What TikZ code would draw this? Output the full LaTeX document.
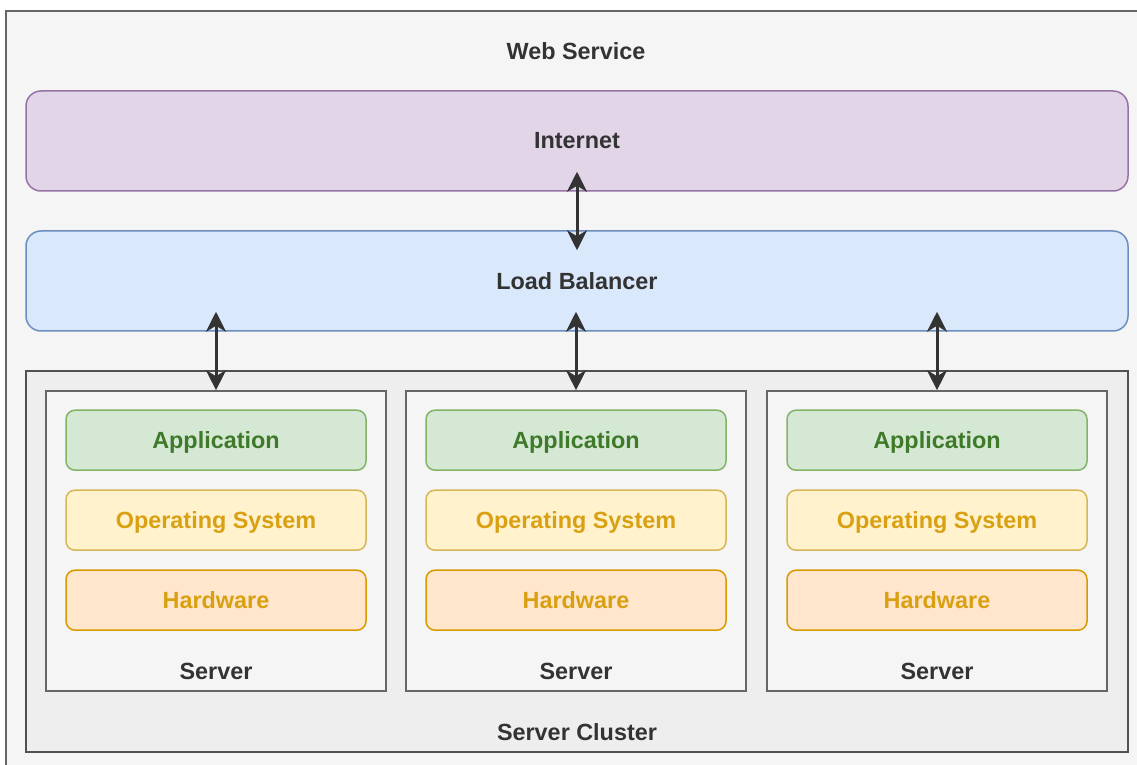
\documentclass[tikz,border=0pt]{standalone}
\usepackage{fontspec}
\setmainfont{Liberation Sans}
\usepackage{tikz}
\usetikzlibrary{calc,positioning,arrows.meta}
\definecolor{webfill}{HTML}{F5F5F5}
\definecolor{webline}{HTML}{666666}
\definecolor{txtgray}{HTML}{333333}
\definecolor{inetfill}{HTML}{E1D5E7}
\definecolor{inetline}{HTML}{9673A6}
\definecolor{lbfill}{HTML}{DAE8FC}
\definecolor{lbline}{HTML}{6C8EBF}
\definecolor{clfill}{HTML}{EEEEEE}
\definecolor{clline}{HTML}{505055}
\definecolor{appfill}{HTML}{D5E8D4}
\definecolor{appline}{HTML}{82B366}
\definecolor{apptxt}{HTML}{3E7A2A}
\definecolor{osfill}{HTML}{FFF2CC}
\definecolor{osline}{HTML}{D6B656}
\definecolor{hwfill}{HTML}{FFE6CC}
\definecolor{hwline}{HTML}{D79B00}
\definecolor{layertxt}{HTML}{D9A012}
\tikzset{
x=0.5pt, y=-0.5pt, % one unit is one pixel of the reference
every node/.style={font=\fontsize{11.7}{14}\bfseries\selectfont, text=txtgray},
band/.style={draw, rounded corners=7.5pt, line width=0.75pt,
    minimum width=551pt, minimum height=50pt},
serverbox/.style={draw=webline, fill=webfill, line width=0.8pt,
    minimum width=170pt, minimum height=150pt},
layer/.style={draw, rounded corners=4.5pt, line width=0.75pt,
    minimum width=150pt, minimum height=30pt, text depth=0pt},
app/.style={layer, fill=appfill, draw=appline, text=apptxt},
os/.style={layer, fill=osfill, draw=osline, text=layertxt},
hw/.style={layer, fill=hwfill, draw=hwline, text=layertxt},
link/.style={{Stealth[length=10pt,width=10pt,inset=3pt]}-{Stealth[length=10pt,width=10pt,inset=3pt]},
    line width=1.5pt, draw=txtgray},
}

\begin{document}
\begin{tikzpicture}[on grid]
    \useasboundingbox (0,0) rectangle (1137,765);
    \clip (0,0) rectangle (1137,765);
    \fill[white] (0,0) rectangle (1137,765);
    % outer container, cut off by the page
    \draw[draw=webline, fill=webfill, line width=1pt] (6,11) rectangle (1160,790);
    \node (title) at (576,51) {Web Service};
    \node[band, fill=inetfill, draw=inetline] (inet) at (577,141) {Internet};
    \node[band, fill=lbfill, draw=lbline] (lb) at (577,281) {Load Balancer};
    \node[draw=clline, fill=clfill, line width=1pt, minimum width=551pt,
        minimum height=190.5pt] (cluster) at (577,561.5) {};
    \node (clusterlbl) at (577,732) {Server Cluster};
    % servers
    \node[serverbox] (srvA) at (216,541) {};
    \node[serverbox] (srvB) [right=180pt of srvA] {};
    \node[serverbox] (srvC) [right=180.5pt of srvB] {};
    \foreach \s in {srvA,srvB,srvC}{
        \node[app] (\s app) at ($(\s.north)+(0,50)$) {Application};
        \node[os] (\s os) [below=40pt of \s app] {Operating System};
        \node[hw] (\s hw) [below=40pt of \s os] {Hardware};
        \node (\s lbl) at ($(\s.south)+(0,-20)$) {Server};
        \draw[link] ($(\s.north |- lb.south)+(0,-20)$) -- (\s.north);
    }
    \draw[link] ($(inet.south)+(0,-20)$) -- ($(lb.north)+(0,20)$);
\end{tikzpicture}
\end{document}
